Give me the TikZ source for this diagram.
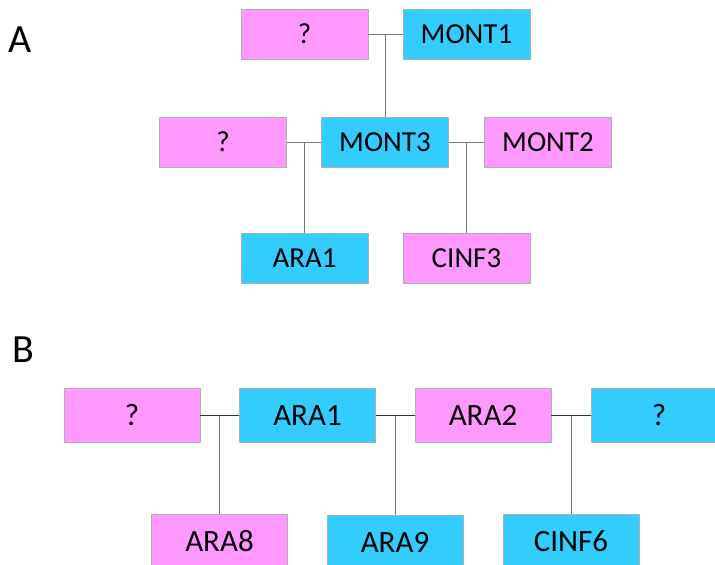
\documentclass[tikz,border=0pt]{standalone}
\usepackage{fontspec}
\setmainfont{Carlito}
\usetikzlibrary{calc}
\definecolor{pinkbox}{HTML}{FF99FF}
\definecolor{bluebox}{HTML}{33CCFF}
\definecolor{edgegray}{HTML}{B0B0B0}
\definecolor{linegray}{HTML}{777777}
\begin{document}
\begin{tikzpicture}[x=1pt,y=-1pt,
  boxa/.style={draw=edgegray,line width=0.6pt,minimum width=127pt,minimum height=50pt,inner sep=0pt,font=\fontsize{29}{30}\selectfont},
  boxb/.style={draw=edgegray,line width=0.6pt,minimum width=136pt,minimum height=54pt,inner sep=0pt,font=\fontsize{31}{32}\selectfont},
  pk/.style={fill=pinkbox},
  bl/.style={fill=bluebox},
  hline/.style={draw=black!80,line width=1pt},
  vline/.style={draw=linegray,line width=1pt},
  panel/.style={font=\fontsize{40}{40}\selectfont,anchor=base west,inner sep=0pt}]
\useasboundingbox (0,0) rectangle (715,565);
\clip (0,0) rectangle (715,565);
% Panel labels
\node[panel] (lblA) at (8,52) {A};
\node[panel] (lblB) at (12,362) {B};
% Panel A
\node[boxa,pk] (qa1) at (304.5,34) {?};
\node[boxa,bl] (mont1) at (466.5,34) {MONT1};
\node[boxa,pk] (qa2) at (223,142) {?};
\node[boxa,bl] (mont3) at (385,142) {MONT3};
\node[boxa,pk] (mont2) at (548,142) {MONT2};
\node[boxa,bl] (ara1a) at (304.5,258) {ARA1};
\node[boxa,pk] (cinf3) at (466.5,258) {CINF3};
\coordinate (ja1) at ($(qa1.east)!0.5!(mont1.west)$);
\coordinate (ja2) at ($(qa2.east)!0.5!(mont3.west)$);
\coordinate (ja3) at ($(mont3.east)!0.5!(mont2.west)$);
\draw[hline,draw=linegray] (qa1.east) -- (mont1.west);
\draw[vline] (ja1) -- (ja1 |- mont3.north);
\draw[hline,draw=linegray] (qa2.east) -- (mont3.west);
\draw[vline] (ja2) -- (ja2 |- ara1a.north);
\draw[hline,draw=linegray] (mont3.east) -- (mont2.west);
\draw[vline] (ja3) -- (ja3 |- cinf3.north);
% Panel B
\node[boxb,pk] (qb1) at (132,415.5) {?};
\node[boxb,bl] (ara1b) at (307.5,415.5) {ARA1};
\node[boxb,pk] (ara2) at (483,415.5) {ARA2};
\node[boxb,bl] (qb2) at (659,415.5) {?};
\node[boxb,pk] (ara8) at (219.5,541) {ARA8};
\node[boxb,bl] (ara9) at (395,542) {ARA9};
\node[boxb,bl] (cinf6) at (571,541) {CINF6};
\coordinate (jb1) at ($(qb1.east)!0.5!(ara1b.west)$);
\coordinate (jb2) at ($(ara1b.east)!0.5!(ara2.west)$);
\coordinate (jb3) at ($(ara2.east)!0.5!(qb2.west)$);
\draw[hline] (qb1.east) -- (ara1b.west);
\draw[vline] (jb1) -- (jb1 |- ara8.north);
\draw[hline] (ara1b.east) -- (ara2.west);
\draw[vline] (jb2) -- (jb2 |- ara9.north);
\draw[hline] (ara2.east) -- (qb2.west);
\draw[vline] (jb3) -- (jb3 |- cinf6.north);
\end{tikzpicture}
\end{document}
